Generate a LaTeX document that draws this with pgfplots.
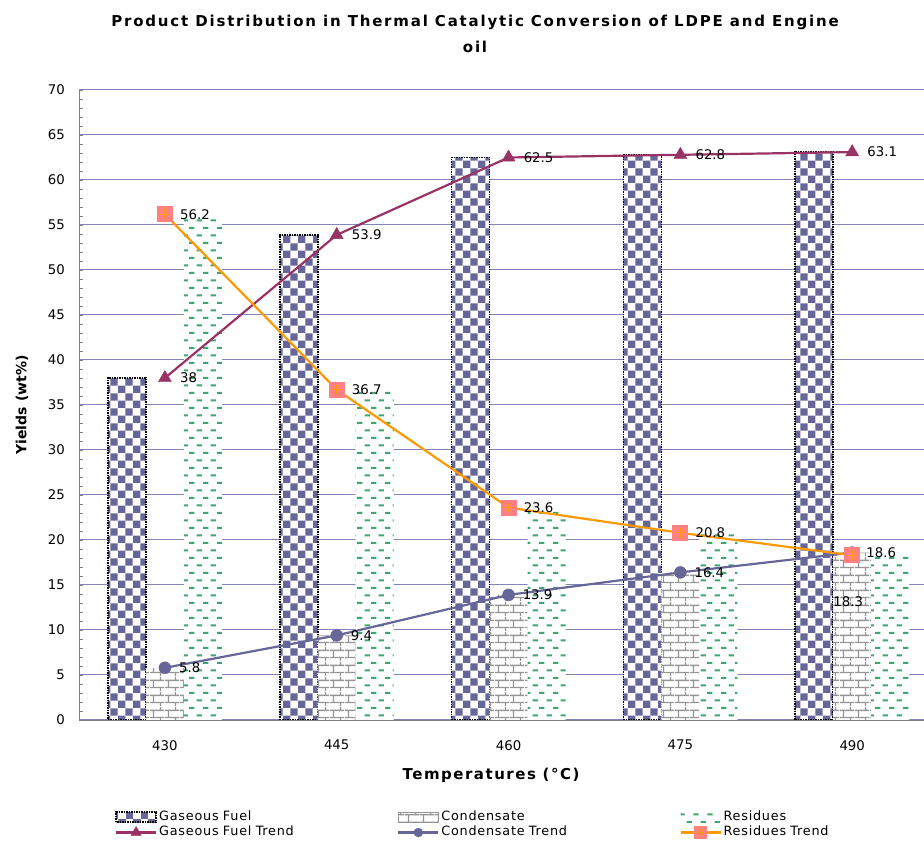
\documentclass[border=0pt]{standalone}
\usepackage{fontspec}
\setmainfont{DejaVu Sans}
\usepackage{pgfplots}
\pgfplotsset{compat=1.18}
\usetikzlibrary{patterns.meta}

\definecolor{gfblue}{HTML}{666699}
\definecolor{brickgray}{HTML}{959595}
\definecolor{resgreen}{HTML}{3FA673}
\definecolor{gftrend}{HTML}{993366}
\definecolor{cdtrend}{HTML}{666699}
\definecolor{rsline}{HTML}{FF9900}
\definecolor{rsmark}{HTML}{FF8080}
\definecolor{gridc}{HTML}{8484B8}

\tikzdeclarepattern{
  name=checker,
  bounding box={(0bp,0bp) and (14.8bp,14.8bp)},
  tile size={(14.8bp,14.8bp)},
  code={
    \path[draw=none,fill] (0bp,0bp) rectangle (7.4bp,7.4bp);
    \path[draw=none,fill] (7.4bp,7.4bp) rectangle (14.8bp,14.8bp);
  }
}
\tikzdeclarepattern{
  name=bricksp,
  bounding box={(0bp,0bp) and (15bp,15bp)},
  tile size={(15bp,15bp)},
  code={
    \path[draw=none,fill] (0bp,3.05bp) rectangle (15bp,4.45bp);
    \path[draw=none,fill] (0bp,10.55bp) rectangle (15bp,11.95bp);
    \path[draw=none,fill] (3.05bp,3.75bp) rectangle (4.45bp,11.25bp);
    \path[draw=none,fill] (10.55bp,11.25bp) rectangle (11.95bp,15bp);
    \path[draw=none,fill] (10.55bp,0bp) rectangle (11.95bp,3.75bp);
  }
}
\tikzdeclarepattern{
  name=dashesp,
  bounding box={(0bp,0bp) and (14bp,15.4bp)},
  tile size={(14bp,15.4bp)},
  code={
    \path[draw=none,fill] (0.75bp,2.85bp) rectangle (6.25bp,4.85bp);
    \path[draw=none,fill] (7.75bp,10.55bp) rectangle (13.25bp,12.55bp);
  }
}

\pgfdeclareplotmark{sqplus}{%
  \pgfpathrectangle{\pgfqpoint{-\pgfplotmarksize}{-\pgfplotmarksize}}{\pgfqpoint{2\pgfplotmarksize}{2\pgfplotmarksize}}%
  \pgfsetfillcolor{rsmark}\pgfusepathqfill
  \pgfsetlinewidth{1.2bp}\pgfsetstrokecolor{rsline}%
  \pgfpathmoveto{\pgfqpoint{-0.6\pgfplotmarksize}{0pt}}\pgfpathlineto{\pgfqpoint{0.6\pgfplotmarksize}{0pt}}%
  \pgfpathmoveto{\pgfqpoint{0pt}{-0.6\pgfplotmarksize}}\pgfpathlineto{\pgfqpoint{0pt}{0.6\pgfplotmarksize}}%
  \pgfusepathqstroke
}

\pgfplotsset{
  barleg/.style={legend image code/.code={\draw[##1,#1] (0bp,-5bp) rectangle (40bp,5bp);}},
  lineleg/.style={legend image code/.code={\draw[mark repeat=2,mark phase=2,##1,mark size=#1] plot coordinates {(0bp,0bp) (20bp,0bp) (40bp,0bp)};}},
  lbl/.style={draw=none, mark=none, forget plot, nodes near coords,
    every node near coord/.append style={anchor=west, inner sep=0pt, xshift=#1, font=\lblfont, text=black}},
}

\newcommand{\lblfont}{\fontsize{13.3bp}{16bp}\selectfont}

\begin{document}
\begin{tikzpicture}
\useasboundingbox (0,0) rectangle (924bp,841bp);
\begin{axis}[
  at={(79bp,121bp)}, anchor=south west,
  scale only axis, width=845bp, height=630bp,
  xmin=-0.5, xmax=4.418, ymin=0, ymax=70,
  axis x line*=bottom, axis y line*=left,
  axis line style={draw=gray, line width=0.8bp},
  xtick={0,...,4}, xticklabels={430,445,460,475,490},
  ytick={0,5,...,70}, minor y tick num=4,
  ymajorgrids, major grid style={gridc, line width=1bp},
  tick align=inside,
  xtick style={draw=none},
  ytick style={draw=gray, line width=0.6bp},
  minor tick length=4bp, major tick length=4bp,
  tick label style={font=\lblfont},
  yticklabel style={anchor=east, inner sep=0pt, xshift=-14bp},
  xticklabel style={anchor=north, inner sep=0pt, yshift=-20bp},
  /pgf/number format/assume math mode=true,
  legend columns=3,
  legend cell align=left,
  legend style={at={(0.0426,-0.1445)}, anchor=north west, draw=none, fill=none,
    inner sep=0pt, outer sep=0pt, column sep=2bp, row sep=2.5bp,
    font=\fontsize{12.8bp}{15bp}\selectfont\addfontfeature{LetterSpace=6},
    nodes={inner sep=0pt, text width=236bp, text height=9.5bp, text depth=3bp}},
]
% bars
\addplot[ybar, bar width=38bp, bar shift=-38bp, fill=white,
  postaction={pattern=checker, pattern color=gfblue},
  draw=black, line width=1.6bp, dash pattern=on 1.5bp off 1bp, barleg={}]
  coordinates {(0,38) (1,53.9) (2,62.5) (3,62.8) (4,63.1)};
\addlegendentry{Gaseous Fuel}
\addplot[ybar, bar width=38bp, bar shift=0bp, fill=white, draw=none,
  postaction={pattern=bricksp, pattern color=brickgray}, barleg={draw=brickgray, line width=1.2bp}]
  coordinates {(0,5.8) (1,9.4) (2,13.9) (3,16.4) (4,18.6)};
\addlegendentry{Condensate}
\addplot[ybar, bar width=38bp, bar shift=38bp, fill=white, draw=none,
  postaction={pattern=dashesp, pattern color=resgreen}, barleg={draw=none}]
  coordinates {(0,56.2) (1,36.7) (2,23.6) (3,20.8) (4,18.3)};
\addlegendentry{Residues}
% trends
\addplot[gftrend, line width=2.2bp, mark=triangle*, mark size=7.5bp,
  mark options={solid, fill=gftrend, draw=gftrend, line width=0.4bp}, lineleg=6bp]
  coordinates {(0,38) (1,53.9) (2,62.5) (3,62.8) (4,63.1)};
\addlegendentry{Gaseous Fuel Trend}
\addplot[cdtrend, line width=2.2bp, mark=*, mark size=6bp,
  mark options={solid, fill=cdtrend, draw=cdtrend, line width=0.4bp}, lineleg=4.5bp]
  coordinates {(0,5.8) (1,9.4) (2,13.9) (3,16.4) (4,18.6)};
\addlegendentry{Condensate Trend}
\addplot[rsline, line width=2.2bp, mark=sqplus, mark size=8bp, lineleg=6.5bp]
  coordinates {(0,56.2) (1,36.7) (2,23.6) (3,20.8) (4,18.3)};
\addlegendentry{Residues Trend}
% data labels
\addplot[lbl=15bp] coordinates {(0,38) (1,53.9) (2,62.5) (3,62.8) (4,63.1)};
\addplot[lbl=14bp] coordinates {(0,5.8) (1,9.4) (2,13.9) (3,16.4) (4,18.6)};
\addplot[lbl=15bp] coordinates {(0,56.2) (1,36.7) (2,23.6) (3,20.8)};
\addplot[draw=none, mark=none, forget plot, nodes near coords,
  every node near coord/.append style={anchor=center, inner sep=0pt, xshift=-4bp, yshift=-46bp, font=\lblfont, text=black}]
  coordinates {(4,18.3)};
\end{axis}
\node[font=\bfseries\fontsize{15bp}{18bp}\selectfont\addfontfeature{LetterSpace=12}] at (475bp,819bp) {Product Distribution in Thermal Catalytic Conversion of LDPE and Engine};
\node[font=\bfseries\fontsize{15bp}{18bp}\selectfont\addfontfeature{LetterSpace=12}] at (475bp,794bp) {oil};
\node[rotate=90, font=\bfseries\fontsize{14bp}{17bp}\selectfont] at (22bp,436bp) {Yields (wt\%)};
\node[font=\bfseries\fontsize{15bp}{18bp}\selectfont\addfontfeature{LetterSpace=10}] at (491bp,66bp) {Temperatures (°C)};
\end{tikzpicture}
\end{document}
